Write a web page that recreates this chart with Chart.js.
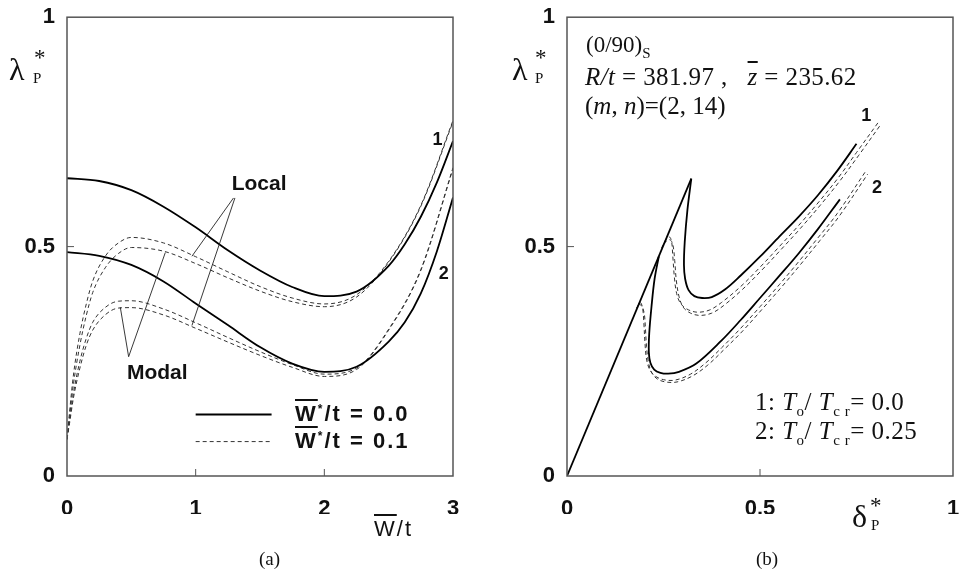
<!DOCTYPE html>
<html>
<head>
<meta charset="utf-8">
<script src="https://cdn.jsdelivr.net/npm/chart.js@4.4.0/dist/chart.umd.min.js"></script>
<style>
  body { margin: 0; background: #fff; width: 960px; height: 577px; position: relative; overflow: hidden; }
  canvas { position: absolute; top: 0; }
  .t { position: absolute; white-space: nowrap; color: #111; line-height: 1; }
  .serif { font-family: 'Liberation Serif', 'DejaVu Serif', serif; }
  .sans { font-family: 'Liberation Sans', Arial, sans-serif; font-weight: bold; }
  .ov { text-decoration: overline; }
  sub, sup { line-height: 0; }
</style>
</head>
<body>
<canvas id="chartA" width="480" height="577" style="left:0"></canvas>
<canvas id="chartB" width="480" height="577" style="left:480px"></canvas>

<!-- axis titles -->
<div class="t serif" style="left:9px;top:53px;font-size:32px">λ</div>
<div class="t serif" style="left:34px;top:46px;font-size:23px">*</div>
<div class="t serif" style="left:33px;top:71px;font-size:15px">P</div>

<div class="t serif" style="left:512px;top:53px;font-size:32px">λ</div>
<div class="t serif" style="left:535px;top:46px;font-size:23px">*</div>
<div class="t serif" style="left:535px;top:71px;font-size:15px">P</div>

<div class="t sans" style="left:374px;top:518px;font-size:22px;font-weight:normal;letter-spacing:2px"><span class="ov">W</span>/t</div>
<div class="t serif" style="left:852px;top:500px;font-size:32px">δ</div>
<div class="t serif" style="left:870px;top:494px;font-size:23px">*</div>
<div class="t serif" style="left:871px;top:518px;font-size:15px">P</div>

<div class="t serif" style="left:259px;top:549px;font-size:19px">(a)</div>
<div class="t serif" style="left:756px;top:549px;font-size:19px">(b)</div>

<!-- legend text panel (a) -->
<div class="t sans" style="left:295px;top:403px;font-size:22px;letter-spacing:2px"><span class="ov">W</span><sup style="font-size:12px">*</sup>/t = 0.0</div>
<div class="t sans" style="left:295px;top:430px;font-size:22px;letter-spacing:2px"><span class="ov">W</span><sup style="font-size:12px">*</sup>/t = 0.1</div>

<!-- notes panel (b) -->
<div class="t serif" style="left:586px;top:33px;font-size:23px">(0/90)<sub style="font-size:15px">S</sub></div>
<div class="t serif" style="left:585px;top:64px;font-size:25px;letter-spacing:0.4px"><i>R/t</i> = 381.97 ,&nbsp;&nbsp;&nbsp;<i class="ov">z</i> = 235.62</div>
<div class="t serif" style="left:585px;top:93px;font-size:25px">(<i>m</i>, <i>n</i>)=(2, 14)</div>
<div class="t serif" style="left:755px;top:389px;font-size:25px;letter-spacing:0.5px">1: <i>T</i><sub style="font-size:15px">o</sub>/ <i>T</i><sub style="font-size:15px">c r</sub>= 0.0</div>
<div class="t serif" style="left:755px;top:418px;font-size:25px;letter-spacing:0.5px">2: <i>T</i><sub style="font-size:15px">o</sub>/ <i>T</i><sub style="font-size:15px">c r</sub>= 0.25</div>

<script>
'use strict';

// ---- panel (a): load vs imperfection amplitude ----
const wGrid = [0, 0.25, 0.5, 0.75, 1.0, 1.25, 1.5, 1.75, 2.0, 2.25, 2.5, 2.625, 2.75, 2.875, 3.0];
const curve1Perfect = [0.649, 0.643, 0.623, 0.587, 0.542, 0.492, 0.448, 0.412, 0.392, 0.402, 0.458, 0.505, 0.565, 0.64, 0.730];
const curve2Perfect = [0.488, 0.480, 0.460, 0.424, 0.376, 0.329, 0.281, 0.245, 0.227, 0.238, 0.293, 0.335, 0.398, 0.49, 0.607];

const wGridImp = [0, 0.02, 0.05, 0.1, 0.15, 0.2, 0.3, 0.4, 0.5, 0.75, 1.0, 1.25, 1.5, 1.75, 2.0, 2.25, 2.5, 2.75, 3.0];
const curve1Local = [0.08, 0.14, 0.22, 0.31, 0.375, 0.425, 0.48, 0.508, 0.52, 0.508, 0.478, 0.445, 0.413, 0.388, 0.375, 0.395, 0.468, 0.59, 0.775];
const curve1Modal = [0.08, 0.13, 0.20, 0.285, 0.35, 0.40, 0.455, 0.485, 0.498, 0.49, 0.463, 0.432, 0.403, 0.38, 0.369, 0.39, 0.466, 0.588, 0.772];
const curve2Local = [0.08, 0.12, 0.18, 0.25, 0.30, 0.335, 0.368, 0.381, 0.382, 0.364, 0.334, 0.302, 0.271, 0.243, 0.222, 0.235, 0.32, 0.45, 0.672];
const curve2Modal = [0.08, 0.115, 0.17, 0.235, 0.285, 0.318, 0.352, 0.366, 0.367, 0.351, 0.322, 0.292, 0.263, 0.237, 0.217, 0.232, 0.318, 0.448, 0.67];

// ---- panel (b): load vs deflection ----
const loadLineX = [0, 0.322];
const loadLineY = [0, 0.648];
const branch1X = [0.322, 0.312, 0.305, 0.303, 0.306, 0.315, 0.33, 0.35, 0.375, 0.41, 0.45, 0.5, 0.55, 0.6, 0.65, 0.7, 0.75];
const branch1Y = [0.648, 0.58, 0.51, 0.46, 0.43, 0.405, 0.392, 0.388, 0.39, 0.407, 0.437, 0.478, 0.522, 0.565, 0.612, 0.665, 0.724];
const branch2X = [0.238, 0.227, 0.219, 0.213, 0.212, 0.216, 0.226, 0.242, 0.262, 0.29, 0.335, 0.4, 0.45, 0.5, 0.55, 0.6, 0.65, 0.707];
const branch2Y = [0.479, 0.43, 0.37, 0.31, 0.27, 0.247, 0.232, 0.225, 0.223, 0.227, 0.245, 0.295, 0.34, 0.388, 0.436, 0.485, 0.538, 0.603];

const imp1aX = [0.245, 0.262, 0.27, 0.274, 0.278, 0.284, 0.295, 0.315, 0.34, 0.37, 0.4, 0.45, 0.5, 0.55, 0.6, 0.65, 0.7, 0.75, 0.81];
const imp1aY = [0.497, 0.522, 0.515, 0.48, 0.435, 0.398, 0.375, 0.362, 0.357, 0.362, 0.378, 0.413, 0.455, 0.5, 0.546, 0.595, 0.647, 0.705, 0.775];
const imp1bX = [0.25, 0.266, 0.274, 0.279, 0.283, 0.29, 0.301, 0.32, 0.345, 0.375, 0.405, 0.455, 0.505, 0.555, 0.605, 0.655, 0.705, 0.755, 0.812];
const imp1bY = [0.507, 0.515, 0.505, 0.47, 0.428, 0.392, 0.368, 0.355, 0.35, 0.355, 0.371, 0.407, 0.449, 0.494, 0.54, 0.589, 0.641, 0.698, 0.765];
const imp2aX = [0.18, 0.19, 0.196, 0.199, 0.202, 0.206, 0.214, 0.228, 0.25, 0.28, 0.32, 0.36, 0.4, 0.45, 0.5, 0.55, 0.6, 0.65, 0.7, 0.776];
const imp2aY = [0.366, 0.378, 0.365, 0.335, 0.29, 0.255, 0.232, 0.218, 0.21, 0.209, 0.222, 0.247, 0.279, 0.322, 0.369, 0.417, 0.467, 0.519, 0.572, 0.667];
const imp2bX = [0.185, 0.194, 0.2, 0.203, 0.206, 0.211, 0.219, 0.233, 0.255, 0.285, 0.325, 0.365, 0.405, 0.455, 0.505, 0.555, 0.605, 0.655, 0.705, 0.779];
const imp2bY = [0.376, 0.37, 0.355, 0.325, 0.282, 0.248, 0.226, 0.212, 0.205, 0.205, 0.218, 0.242, 0.274, 0.316, 0.363, 0.411, 0.461, 0.513, 0.566, 0.658];

function pts(xs, ys) {
  return xs.map((x, i) => ({ x: x, y: ys[i] }));
}

function solid(data, tension) {
  return { data: data, showLine: true, pointRadius: 0, borderColor: '#000', borderWidth: 1.8, tension: tension };
}
function dashed(data, tension) {
  return { data: data, showLine: true, pointRadius: 0, borderColor: '#333', borderWidth: 1, borderDash: [4, 3], tension: tension };
}

// frame, small inward ticks, labels, pointers
const framePlugin = {
  id: 'frame',
  afterDatasetsDraw(chart, args, o) {
    const ctx = chart.ctx;
    const a = chart.chartArea;
    const x = chart.scales.x, y = chart.scales.y;
    ctx.save();
    ctx.strokeStyle = '#555';
    ctx.lineWidth = 1.5;
    ctx.strokeRect(a.left, a.top, a.right - a.left, a.bottom - a.top);
    ctx.lineWidth = 1;
    o.xMarks.forEach(v => {
      const px = x.getPixelForValue(v);
      ctx.beginPath(); ctx.moveTo(px, a.bottom); ctx.lineTo(px, a.bottom - 7); ctx.stroke();
    });
    o.yMarks.forEach(v => {
      const py = y.getPixelForValue(v);
      ctx.beginPath(); ctx.moveTo(a.left, py); ctx.lineTo(a.left + 7, py); ctx.stroke();
    });
    // pointer lines
    ctx.strokeStyle = '#222';
    ctx.lineWidth = 0.9;
    (o.pointers || []).forEach(p => {
      ctx.beginPath();
      ctx.moveTo(x.getPixelForValue(p[0]), y.getPixelForValue(p[1]));
      ctx.lineTo(x.getPixelForValue(p[2]), y.getPixelForValue(p[3]));
      ctx.stroke();
    });
    // legend samples
    (o.samples || []).forEach(s => {
      ctx.strokeStyle = s.dash ? '#333' : '#000';
      ctx.lineWidth = s.dash ? 1 : 1.8;
      ctx.setLineDash(s.dash ? [4, 3] : []);
      const py = y.getPixelForValue(s.y);
      ctx.beginPath();
      ctx.moveTo(x.getPixelForValue(s.x0), py);
      ctx.lineTo(x.getPixelForValue(s.x1), py);
      ctx.stroke();
    });
    ctx.setLineDash([]);
    // text notes
    ctx.fillStyle = '#111';
    ctx.textBaseline = 'middle';
    (o.notes || []).forEach(n => {
      ctx.font = 'bold ' + n.size + 'px "Liberation Sans", Arial, sans-serif';
      ctx.fillText(n.text, x.getPixelForValue(n.x), y.getPixelForValue(n.y));
    });
    ctx.restore();
  }
};

const tickFont = { family: '"Liberation Sans", Arial, sans-serif', size: 22, weight: 'bold' };

function makeOptions(xMax, xStep, yWidth, padRight, frameOpts) {
  return {
    responsive: false,
    animation: false,
    devicePixelRatio: 1,
    layout: { padding: { left: 0, right: padRight, top: 12, bottom: 63 } },
    plugins: { legend: { display: false }, tooltip: { enabled: false }, frame: frameOpts },
    scales: {
      x: {
        type: 'linear', min: 0, max: xMax,
        grid: { display: false }, border: { display: false },
        ticks: { stepSize: xStep, color: '#111', font: tickFont, padding: 12, maxRotation: 0, callback: v => String(v) },
        afterFit: s => { s.height = 38; s.paddingLeft = 0; s.paddingRight = 0; }
      },
      y: {
        type: 'linear', min: 0, max: 1,
        grid: { display: false }, border: { display: false },
        ticks: { stepSize: 0.5, color: '#111', font: tickFont, padding: 4, callback: v => String(v) },
        afterFit: s => { s.width = yWidth; }
      }
    }
  };
}

new Chart(document.getElementById('chartA'), {
  type: 'scatter',
  data: {
    datasets: [
      Object.assign(solid(pts(wGrid, curve1Perfect), 0), { cubicInterpolationMode: 'monotone' }),
      Object.assign(solid(pts(wGrid, curve2Perfect), 0), { cubicInterpolationMode: 'monotone' }),
      Object.assign(dashed(pts(wGridImp, curve1Local), 0), { cubicInterpolationMode: 'monotone' }),
      Object.assign(dashed(pts(wGridImp, curve1Modal), 0), { cubicInterpolationMode: 'monotone' }),
      Object.assign(dashed(pts(wGridImp, curve2Local), 0), { cubicInterpolationMode: 'monotone' }),
      Object.assign(dashed(pts(wGridImp, curve2Modal), 0), { cubicInterpolationMode: 'monotone' })
    ]
  },
  options: makeOptions(3, 1, 67, 27, {
    xMarks: [1, 2], yMarks: [0.5],
    pointers: [
      [1.294, 0.606, 0.971, 0.479], [1.305, 0.606, 0.971, 0.328],
      [0.479, 0.26, 0.414, 0.368], [0.479, 0.26, 0.764, 0.487]
    ],
    samples: [{ x0: 1.0, x1: 1.59, y: 0.134 }, { x0: 1.0, x1: 1.59, y: 0.075, dash: true }],
    notes: [
      { text: 'Local', x: 1.28, y: 0.635, size: 21 },
      { text: 'Modal', x: 0.466, y: 0.224, size: 21 },
      { text: '1', x: 2.84, y: 0.733, size: 18 },
      { text: '2', x: 2.89, y: 0.44, size: 18 }
    ]
  }),
  plugins: [framePlugin]
});

new Chart(document.getElementById('chartB'), {
  type: 'scatter',
  data: {
    datasets: [
      solid(pts(loadLineX, loadLineY), 0),
      solid(pts(branch1X, branch1Y), 0.35),
      solid(pts(branch2X, branch2Y), 0.35),
      dashed(pts(imp1aX, imp1aY), 0.35),
      dashed(pts(imp1bX, imp1bY), 0.35),
      dashed(pts(imp2aX, imp2aY), 0.35),
      dashed(pts(imp2bX, imp2bY), 0.35)
    ]
  },
  options: makeOptions(1, 0.5, 87, 7, {
    xMarks: [0.5], yMarks: [0.5],
    notes: [
      { text: '1', x: 0.762, y: 0.785, size: 18 },
      { text: '2', x: 0.79, y: 0.627, size: 18 }
    ]
  }),
  plugins: [framePlugin]
});
</script>
</body>
</html>
